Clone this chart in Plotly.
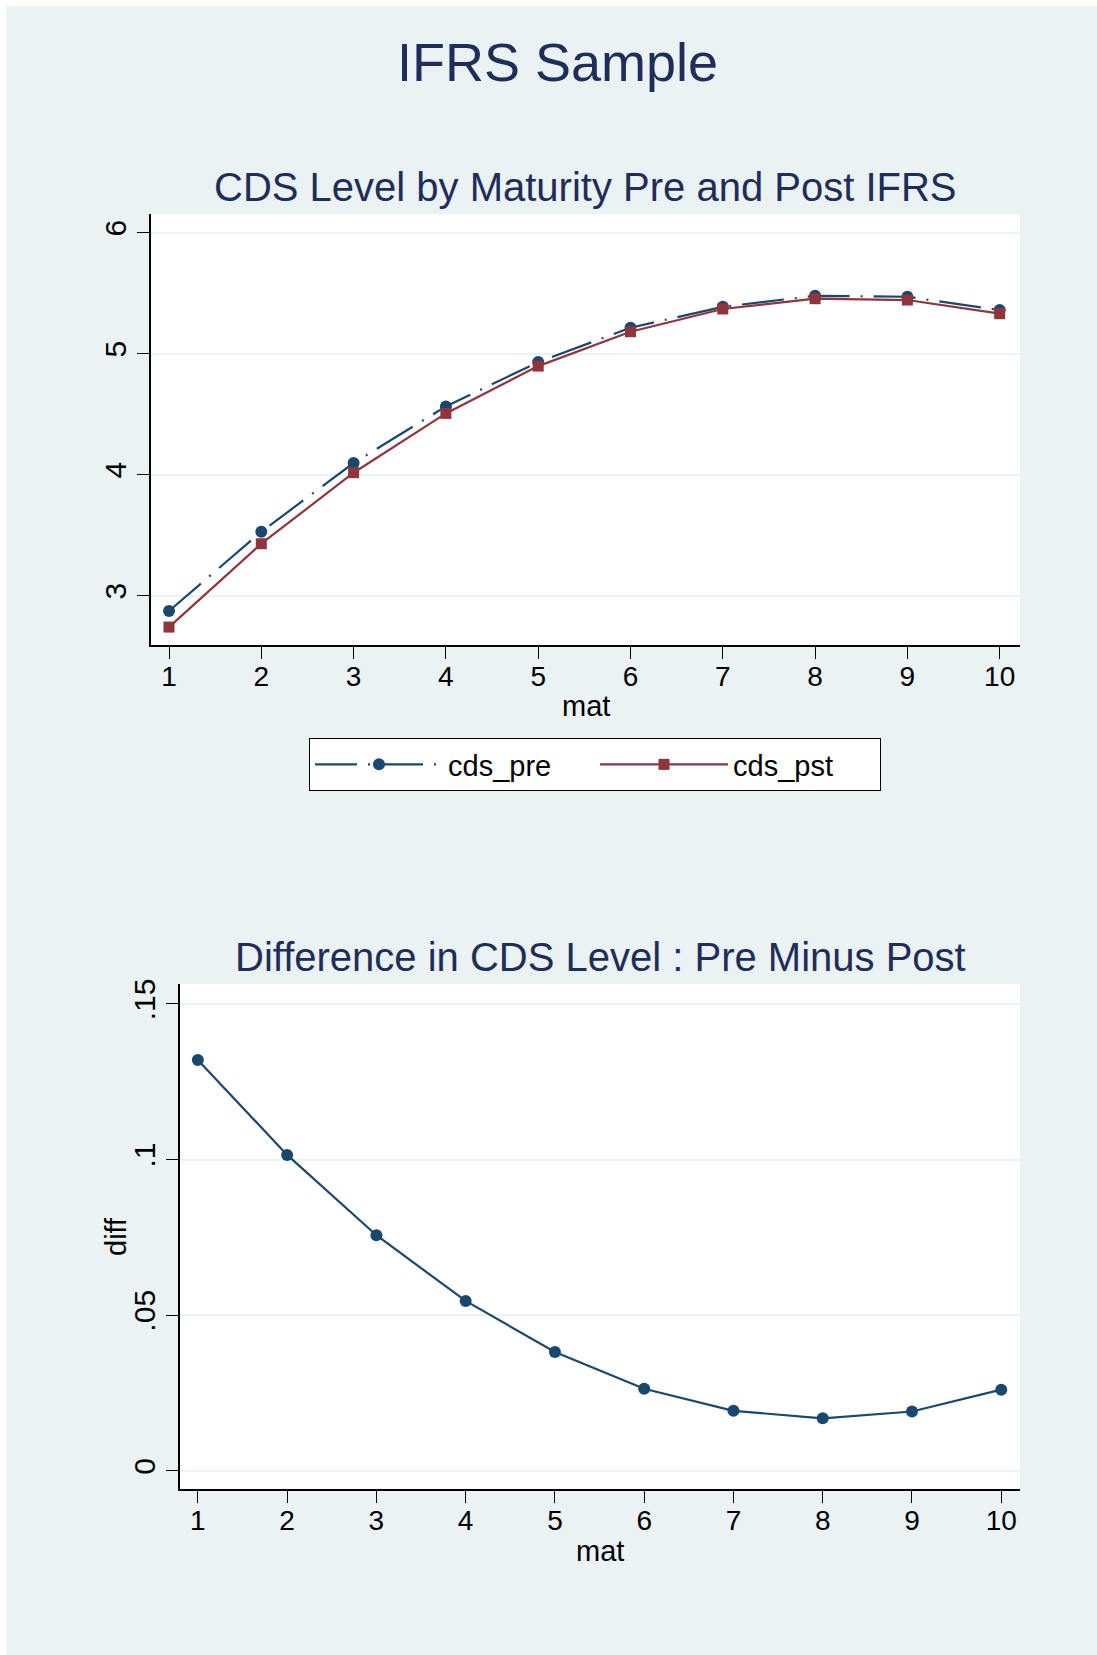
import plotly.graph_objects as go

# ---------------- data ----------------
mat = [1, 2, 3, 4, 5, 6, 7, 8, 9, 10]
cds_pre = [2.874, 3.529, 4.097, 4.565, 4.931, 5.215, 5.388, 5.479, 5.471, 5.361]
cds_pst = [2.741, 3.430, 4.017, 4.507, 4.898, 5.182, 5.370, 5.455, 5.444, 5.331]
diff = [0.1320, 0.1015, 0.0757, 0.0546, 0.0382, 0.0264, 0.0193, 0.0169, 0.0191, 0.0261]

x_tickvals = [1, 2, 3, 4, 5, 6, 7, 8, 9, 10]
y1_tickvals = [3, 4, 5, 6]
y1_ticktext = ["3", "4", "5", "6"]
y2_tickvals = [0, 0.05, 0.1, 0.15]
y2_ticktext = ["0", ".05", ".1", ".15"]

main_title = "IFRS Sample"
title_top = "CDS Level by Maturity Pre and Post IFRS"
title_bottom = "Difference in CDS Level : Pre Minus Post"

# ---------------- style ----------------
W, H = 1097, 1655
BG = "#EAF2F3"
NAVY = "#1A476F"
MAROON = "#90353B"
TITLE_C = "#1E2D5A"
FONT = "Liberation Sans, Arial, Helvetica, sans-serif"
TICK_SIZE = 28
YTICK_SIZE = 30
LABEL_SIZE = 29


def px(x):
    return x / W


def py(y):
    return 1 - y / H


fig = go.Figure()

fig.add_trace(go.Scatter(
    x=mat, y=cds_pre, name="cds_pre", mode="lines+markers",
    line=dict(color=NAVY, width=2.2, dash="42px,11px,2px,11px"),
    marker=dict(symbol="circle", size=12, color=NAVY),
    xaxis="x", yaxis="y",
))
fig.add_trace(go.Scatter(
    x=mat, y=cds_pst, name="cds_pst", mode="lines+markers",
    line=dict(color=MAROON, width=2.2),
    marker=dict(symbol="square", size=11, color=MAROON),
    xaxis="x", yaxis="y",
))
fig.add_trace(go.Scatter(
    x=mat, y=diff, name="diff", mode="lines+markers", showlegend=False,
    line=dict(color=NAVY, width=2.2),
    marker=dict(symbol="circle", size=12, color=NAVY),
    xaxis="x2", yaxis="y2",
))

axis_common = dict(
    showline=True, linecolor="black", linewidth=1.5, mirror=False,
    ticks="outside", ticklen=12, tickwidth=1, tickcolor="black",
    zeroline=False, automargin=False,
)
xfont = dict(family=FONT, size=TICK_SIZE, color="black")
yfont = dict(family=FONT, size=YTICK_SIZE, color="black")

fig.update_layout(
    width=W, height=H,
    margin=dict(l=0, r=0, t=0, b=0, pad=0, autoexpand=False),
    paper_bgcolor=BG, plot_bgcolor="white",
    font=dict(family=FONT, color="black"),
    xaxis=dict(domain=[px(151), px(1020)], anchor="y", range=[0.805, 10.22],
               tickvals=x_tickvals, showgrid=False, ticklabelstandoff=-6,
               tickfont=xfont, **axis_common),
    yaxis=dict(domain=[py(645), py(214)], anchor="x", range=[2.593, 6.155],
               tickvals=y1_tickvals, ticktext=y1_ticktext, tickangle=-90,
               showgrid=True, gridcolor=BG, gridwidth=2, ticklabelstandoff=-1,
               tickfont=yfont, **axis_common),
    xaxis2=dict(domain=[px(180), px(1020)], anchor="y2", range=[0.80, 10.21],
                tickvals=x_tickvals, showgrid=False, ticklabelstandoff=-6,
                tickfont=xfont, **axis_common),
    yaxis2=dict(domain=[py(1489), py(984)], anchor="x2", range=[-0.0058, 0.1564],
                tickvals=y2_tickvals, ticktext=y2_ticktext, tickangle=-90,
                showgrid=True, gridcolor=BG, gridwidth=2, ticklabelstandoff=-1,
                tickfont=yfont, **axis_common),
    showlegend=True,
    legend=dict(
        x=px(309), y=py(738), xanchor="left", yanchor="top",
        orientation="h", bgcolor="white", bordercolor="black", borderwidth=1,
        font=dict(family=FONT, size=LABEL_SIZE, color="black"),
        itemwidth=128, entrywidth=142, entrywidthmode="pixels",
    ),
    annotations=[
        dict(text=main_title, x=px(557.5), y=py(61.5), xref="paper", yref="paper",
             showarrow=False, xanchor="center", yanchor="middle",
             font=dict(family=FONT, size=54, color=TITLE_C)),
        dict(text=title_top, x=px(585.5), y=py(186.5), xref="paper", yref="paper",
             showarrow=False, xanchor="center", yanchor="middle",
             font=dict(family=FONT, size=40, color=TITLE_C)),
        dict(text=title_bottom, x=px(600), y=py(957), xref="paper", yref="paper",
             showarrow=False, xanchor="center", yanchor="middle",
             font=dict(family=FONT, size=40, color=TITLE_C)),
        dict(text="mat", x=px(585.5), y=py(705.5), xref="paper", yref="paper",
             showarrow=False, xanchor="center", yanchor="middle",
             font=dict(family=FONT, size=LABEL_SIZE, color="black")),
        dict(text="mat", x=px(600), y=py(1551), xref="paper", yref="paper",
             showarrow=False, xanchor="center", yanchor="middle",
             font=dict(family=FONT, size=LABEL_SIZE, color="black")),
        dict(text="diff", x=px(116), y=py(1237), xref="paper", yref="paper",
             showarrow=False, xanchor="center", yanchor="middle", textangle=-90,
             font=dict(family=FONT, size=LABEL_SIZE, color="black")),
    ],
    shapes=[
        dict(type="rect", xref="paper", yref="paper", x0=0, x1=px(6), y0=0, y1=1,
             fillcolor="white", line=dict(width=0), layer="above"),
        dict(type="rect", xref="paper", yref="paper", x0=0, x1=1, y0=py(6), y1=1,
             fillcolor="white", line=dict(width=0), layer="above"),
    ],
)

fig.write_html(
    "out.html",
    config={"displayModeBar": False},
    post_script="document.body.style.margin='0px';document.body.style.overflow='hidden';",
)
